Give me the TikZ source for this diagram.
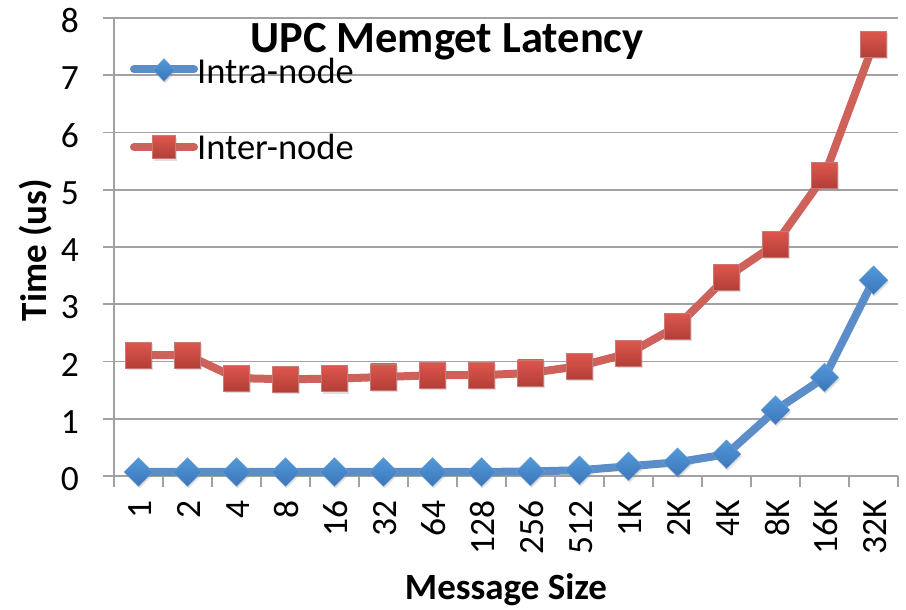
\documentclass[tikz,border=0pt]{standalone}
\usepackage{fontspec}
\setmainfont{Carlito}
\usetikzlibrary{shapes.geometric,shadows}

\definecolor{gridgray}{HTML}{A2A2A2}
\definecolor{intraline}{HTML}{5B8DC9}
\definecolor{intratop}{HTML}{5299DB}
\definecolor{intrabot}{HTML}{3B76B8}
\definecolor{interline}{HTML}{CF615B}
\definecolor{intertop}{HTML}{DD574D}
\definecolor{interbot}{HTML}{B23E38}

\begin{document}
\begin{tikzpicture}[x=1pt,y=-1pt,
  gridline/.style={draw=gridgray,line width=1.6pt},
  ticklabel/.style={font=\fontsize{35.5}{40}\selectfont,inner sep=0pt},
  axistitle/.style={font=\fontsize{37}{42}\selectfont\bfseries,inner sep=0pt},
  series/.style={line width=8pt,line join=round,line cap=round},
  mshadow/.style={drop shadow={opacity=0.25,shadow xshift=1pt,shadow yshift=-2pt}},
  intramark/.style={diamond,inner sep=0pt,minimum width=29pt,minimum height=29pt,
    top color=intratop,bottom color=intrabot,draw=intrabot!70,line width=0.4pt,mshadow},
  intermark/.style={rectangle,inner sep=0pt,minimum size=26pt,
    top color=intertop,bottom color=interbot,draw=interbot!70,line width=0.4pt,mshadow},
  legtext/.style={font=\fontsize{36.5}{41}\selectfont,inner sep=0pt,anchor=base west}
]
\useasboundingbox (0,0) rectangle (906,610);

% horizontal gridlines and value labels
\foreach \v in {0,...,8} {
  \draw[gridline] (103,{476-57.25*\v}) -- (898,{476-57.25*\v});
  \node[ticklabel,anchor=east] (yl\v) at (79,{479-57.25*\v}) {\v};
}
% value axis
\draw[gridline] (114,18) -- (114,476);
% category ticks
\foreach \i in {0,...,16}
  \draw[gridline] ({114+49*\i},476) -- ({114+49*\i},487);
% category labels
\foreach \c [count=\i from 0] in {1,2,4,8,16,32,64,128,256,512,1K,2K,4K,8K,16K,32K}
  \node[ticklabel,rotate=90,anchor=east] (xl\i) at ({140+49*\i},500) {\c};

% titles
\node[font=\fontsize{44.5}{50}\selectfont\bfseries,inner sep=0pt,anchor=base] (title) at (447,53) {UPC Memget Latency};
\node[axistitle,anchor=base] (xtitle) at (506,599) {Message Size};
\node[axistitle,rotate=90,anchor=base] (ytitle) at (46,250) {Time (us)};

% data points
\foreach \v [count=\i from 0] in {0.07,0.07,0.07,0.07,0.07,0.07,0.07,0.07,0.08,0.10,0.17,0.24,0.38,1.15,1.72,3.42}
  \coordinate (a\i) at ({138.5+49*\i},{476-57.25*\v});
\foreach \v [count=\i from 0] in {2.11,2.11,1.71,1.69,1.70,1.73,1.76,1.76,1.80,1.92,2.14,2.62,3.47,4.05,5.25,7.54}
  \coordinate (b\i) at ({138.5+49*\i},{476-57.25*\v});

% intra-node series
\draw[series,intraline] (a0) \foreach \i in {1,...,15} { -- (a\i) };
\foreach \i in {0,...,15} \node[intramark] (ma\i) at (a\i) {};
% inter-node series
\draw[series,interline] (b0) \foreach \i in {1,...,15} { -- (b\i) };
\foreach \i in {0,...,15} \node[intermark] (mb\i) at (b\i) {};

% legend
\coordinate (la1) at (134,69);
\coordinate (la2) at (194,69);
\draw[series,intraline] (la1) -- (la2);
\node[intramark,minimum width=22pt,minimum height=23pt] (lma) at (164,70) {};
\node[legtext] (lta) at (197,84) {Intra-node};
\coordinate (lb1) at (134,147);
\coordinate (lb2) at (194,147);
\draw[series,interline] (lb1) -- (lb2);
\node[intermark,minimum size=23pt] (lmb) at (164,147) {};
\node[legtext] (ltb) at (197,160) {Inter-node};
\end{tikzpicture}
\end{document}
